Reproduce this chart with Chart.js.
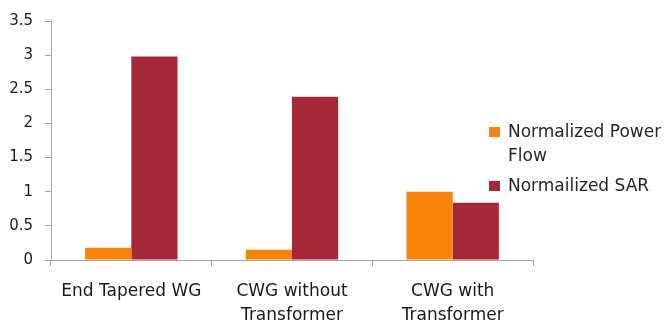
<!DOCTYPE html>
<html>
<head>
<meta charset="utf-8">
<script src="https://cdn.jsdelivr.net/npm/chart.js@4.4.0/dist/chart.umd.min.js"></script>
<style>
  html, body { margin: 0; padding: 0; background: #fff; }
  #wrap { width: 664px; height: 329px; }
</style>
</head>
<body>
<div id="wrap"><canvas id="grafico"></canvas></div>
<script>
const categorias = [
    ['End Tapered WG'],
    ['CWG without', 'Transformer'],
    ['CWG with', 'Transformer']
];
const potencia = [0.18, 0.15, 1.0];
const sar = [2.98, 2.39, 0.84];
const nomesSeries = ['Normalized Power Flow', 'Normailized SAR'];
const linhasLegenda = [['Normalized Power', 'Flow'], ['Normailized SAR']];

const corLaranja = '#F7830B';
const corVinho = '#A42838';
const corEixo = '#A6A6A6';
const fonte = '"DejaVu Sans", sans-serif';

// legenda desenhada por cima da área do gráfico, como no Excel
const legendaExcel = {
    id: 'legendaExcel',
    afterDraw(chart) {
        const ctx = chart.ctx;
        const posicoes = [137, 191]; // linha de base do primeiro texto de cada item
        ctx.save();
        ctx.font = '17px ' + fonte;
        ctx.textBaseline = 'alphabetic';
        chart.data.datasets.forEach((ds, i) => {
            const y = posicoes[i];
            ctx.fillStyle = ds.backgroundColor;
            ctx.fillRect(489, y - 10, 11, 10);
            ctx.fillStyle = '#262626';
            linhasLegenda[i].forEach((linha, j) => {
                ctx.fillText(linha, 508, y + j * 24);
            });
        });
        ctx.restore();
    }
};

const ctx = document.getElementById('grafico').getContext('2d');
const grafico = new Chart(ctx, {
    type: 'bar',
    data: {
        labels: categorias,
        datasets: [{
            label: nomesSeries[0],
            data: potencia,
            backgroundColor: corLaranja
        }, {
            label: nomesSeries[1],
            data: sar,
            backgroundColor: corVinho
        }]
    },
    options: {
        responsive: true,
        maintainAspectRatio: false,
        animation: false,
        categoryPercentage: 0.575,
        barPercentage: 1.0,
        layout: {
            padding: { top: 17, right: 131, left: 0, bottom: 0 }
        },
        plugins: {
            legend: { display: false },
            tooltip: { enabled: false }
        },
        scales: {
            x: {
                grid: {
                    drawOnChartArea: false,
                    tickLength: 6,
                    color: corEixo,
                    offset: true
                },
                border: { color: corEixo },
                ticks: {
                    color: '#1a1a1a',
                    font: { family: fonte, size: 17, lineHeight: 1.41 },
                    padding: 14,
                    maxRotation: 0
                },
                afterFit(escala) { escala.height = 69; }
            },
            y: {
                min: 0,
                max: 3.5,
                grid: {
                    drawOnChartArea: false,
                    tickLength: 6,
                    color: corEixo
                },
                border: { color: corEixo },
                ticks: {
                    stepSize: 0.5,
                    color: '#1a1a1a',
                    font: { family: fonte, size: 15 },
                    padding: 12,
                    callback: (v) => String(v)
                },
                afterFit(escala) { escala.width = 51; }
            }
        }
    },
    plugins: [legendaExcel]
});
</script>
</body>
</html>
